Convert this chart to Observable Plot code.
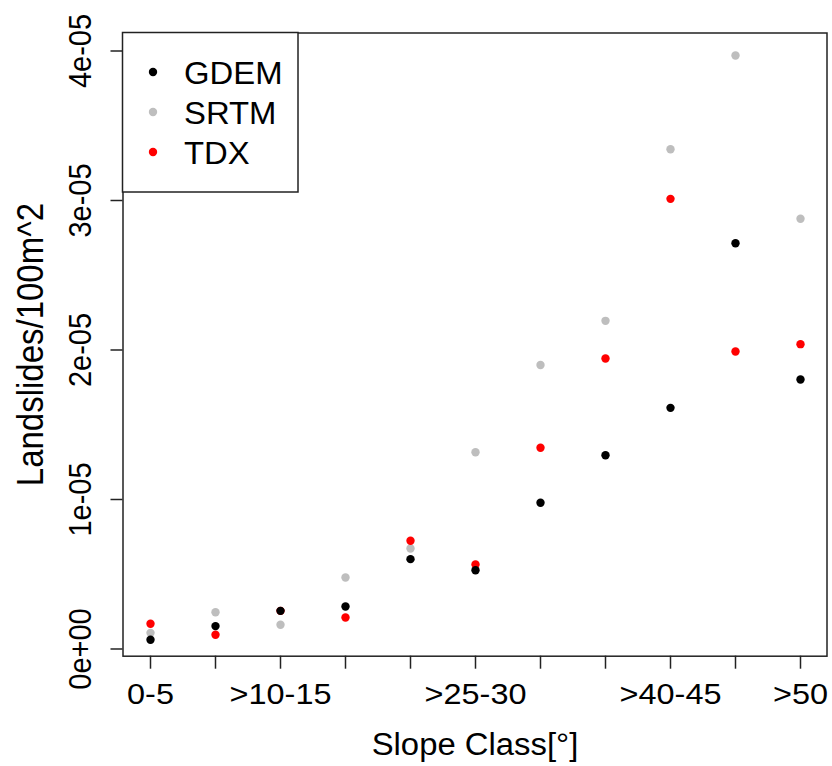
<!DOCTYPE html>
<html>
<head>
<meta charset="utf-8">
<script src="https://cdn.jsdelivr.net/npm/d3@7"></script>
<script src="https://cdn.jsdelivr.net/npm/@observablehq/plot@0.6"></script>
<style>
  html, body { margin: 0; padding: 0; background: white; }
  #chart { width: 832px; height: 766px; }
</style>
</head>
<body>
<div id="chart"></div>
<script>
// ---- data ----
const categories = [
  "0-5", ">5-10", ">10-15", ">15-20", ">20-25", ">25-30",
  ">30-35", ">35-40", ">40-45", ">45-50", ">50"
];
const shownXLabels = ["0-5", ">10-15", ">25-30", ">40-45", ">50"];
const seriesNames = ["GDEM", "SRTM", "TDX"];
const seriesColors = ["#000000", "#bebebe", "#ff0000"];
const gdem = [0.062e-5, 0.153e-5, 0.255e-5, 0.284e-5, 0.601e-5, 0.527e-5, 0.978e-5, 1.296e-5, 1.613e-5, 2.714e-5, 1.803e-5];
const srtm = [0.108e-5, 0.246e-5, 0.162e-5, 0.478e-5, 0.672e-5, 1.316e-5, 1.900e-5, 2.195e-5, 3.343e-5, 3.970e-5, 2.878e-5];
const tdx  = [0.169e-5, 0.095e-5, 0.255e-5, 0.211e-5, 0.724e-5, 0.565e-5, 1.346e-5, 1.943e-5, 3.011e-5, 1.990e-5, 2.039e-5];
const yTicks = [0, 1e-5, 2e-5, 3e-5, 4e-5];
const yTickLabels = ["0e+00", "1e-05", "2e-05", "3e-05", "4e-05"];
const xTitle = "Slope Class[°]";
const yTitle = "Landslides/100m^2";

// ---- build rows (draw order: SRTM, TDX, GDEM on top) ----
const valuesBySeries = {GDEM: gdem, SRTM: srtm, TDX: tdx};
const drawOrder = ["SRTM", "TDX", "GDEM"];
const rows = [];
for (const s of drawOrder) {
  valuesBySeries[s].forEach((v, i) => rows.push({category: categories[i], value: v, series: s}));
}

const svg = Plot.plot({
  width: 832,
  height: 766,
  marginLeft: 122.5,
  marginRight: 5.5,
  marginTop: 32.5,
  marginBottom: 110.3,
  style: {fontFamily: "'Liberation Sans', Arial, sans-serif", fontSize: "29px", color: "black", background: "white"},
  x: {type: "point", domain: categories, padding: 0.4},
  y: {domain: [-0.0482e-5, 4.1204e-5]},
  color: {domain: seriesNames, range: seriesColors},
  marks: [
    Plot.frame({stroke: "#222", strokeWidth: 1.5}),
    Plot.axisX({
      ticks: categories,
      tickSize: 13,
      tickPadding: 14.6,
      strokeWidth: 1.5,
      stroke: "#222",
      tickFormat: d => shownXLabels.includes(d) ? d : "",
      label: null,
      fontSize: 29
    }),
    Plot.axisY({
      ticks: yTicks,
      tickSize: 12,
      tickPadding: 20.5,
      tickRotate: -90,
      strokeWidth: 1.5,
      stroke: "#222",
      tickFormat: d => yTickLabels[yTicks.indexOf(d)],
      label: null,
      fontSize: 29
    }),
    Plot.dot(rows, {x: "category", y: "value", fill: "series", r: 4.2, stroke: null}),
    Plot.text([xTitle], {text: d => d, frameAnchor: "bottom", dy: 99, lineAnchor: "bottom", textAnchor: "middle", fontSize: 31}),
    Plot.text([yTitle], {text: d => d, frameAnchor: "left", rotate: -90, dx: -80.5, lineAnchor: "bottom", textAnchor: "middle", fontSize: 33})
  ]
});

// ---- slight horizontal stretch of text, as in the reference rendering ----
const root = d3.select(svg);
function stretch(sel, sx, sy) {
  sel.each(function () {
    const t = this.getAttribute("transform") || "";
    this.setAttribute("transform", `${t} scale(${sx},${sy})`);
  });
}
stretch(root.selectAll('g[aria-label="x-axis tick label"] text'), 1.12, 1);
stretch(root.selectAll('g[aria-label="y-axis tick label"] text'), 1, 1.1);
const titleTexts = root.selectAll('g[aria-label="text"] text');
stretch(titleTexts.filter(function () { return this.textContent === xTitle; }), 1.06, 1);
stretch(titleTexts.filter(function () { return this.textContent === yTitle; }), 1, 1.12);

// ---- legend inside the plot box (top-left) ----
const g = root.append("g").attr("class", "legend");
g.append("rect")
  .attr("x", 122.5).attr("y", 32.5)
  .attr("width", 175.5).attr("height", 159.5)
  .attr("fill", "white").attr("stroke", "#222").attr("stroke-width", 1.5);
seriesNames.forEach((name, i) => {
  g.append("circle")
    .attr("cx", 153).attr("cy", 72 + 40 * i).attr("r", 4.2)
    .attr("fill", seriesColors[i]);
  g.append("text")
    .attr("transform", `translate(184,${84 + 40 * i}) scale(1.06,1)`)
    .attr("text-anchor", "start")
    .attr("font-size", 31)
    .attr("fill", "black")
    .text(name);
});

document.getElementById("chart").appendChild(svg);
</script>
</body>
</html>
